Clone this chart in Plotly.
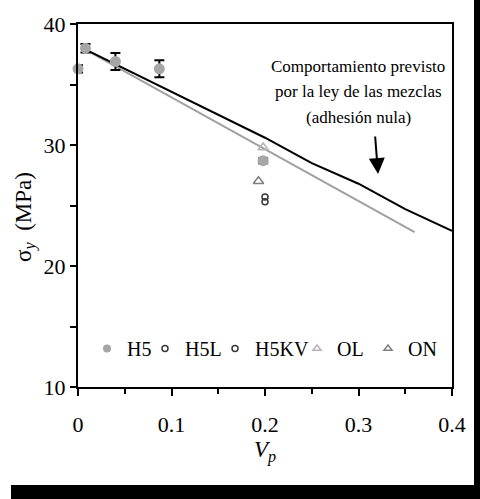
import plotly.graph_objects as go

# Measured yield stress versus particle volume fraction
h5_x = [0.0, 0.008, 0.04, 0.087, 0.198]
h5_y = [36.3, 38.0, 36.9, 36.3, 28.7]
h5_err = [0.3, 0.35, 0.7, 0.7, 0.2]

h5l_x = [0.2]
h5l_y = [25.7]
h5kv_x = [0.2]
h5kv_y = [25.3]
ol_x = [0.198]
ol_y = [29.8]
on_x = [0.193]
on_y = [27.0]

# Rule-of-mixtures predictions (zero adhesion)
mix_black_x = [0.005, 0.1, 0.2, 0.25, 0.3, 0.35, 0.4]
mix_black_y = [38.0, 34.4, 30.6, 28.5, 26.8, 24.7, 22.9]
mix_gray_x = [0.005, 0.36]
mix_gray_y = [38.0, 22.8]

x_ticks = [0, 0.1, 0.2, 0.3, 0.4]
x_tick_text = ["0", "0.1", "0.2", "0.3", "0.4"]
y_ticks = [10, 20, 30, 40]
legend_names = ["H5", "H5L", "H5KV", "OL", "ON"]

FONT = "Liberation Serif"
GRAY_H5 = "#a6a6a6"
GRAY_OL = "#b4b4b4"
GRAY_ON = "#7f7f7f"
DARK = "#3a3a3a"
NB = "\u00a0"

# plot area in pixels
L, R, T, B = 78, 452, 20, 387
W, H = R - L, B - T

fig = go.Figure()

fig.add_trace(go.Scatter(x=mix_gray_x, y=mix_gray_y, mode="lines",
                         line=dict(color="#a0a0a0", width=2), showlegend=False))
fig.add_trace(go.Scatter(x=mix_black_x, y=mix_black_y, mode="lines",
                         line=dict(color="black", width=2), showlegend=False))

fig.add_trace(go.Scatter(
    x=h5_x, y=h5_y, mode="markers", showlegend=False, cliponaxis=False,
    marker=dict(symbol="circle", size=11, color=GRAY_H5),
    error_y=dict(type="data", array=h5_err, color="black", thickness=2, width=5),
))
fig.add_trace(go.Scatter(x=h5l_x, y=h5l_y, mode="markers", showlegend=False,
                         marker=dict(symbol="circle-open", size=6, color=DARK,
                                     line=dict(width=1.5))))
fig.add_trace(go.Scatter(x=h5kv_x, y=h5kv_y, mode="markers", showlegend=False,
                         marker=dict(symbol="circle-open", size=6, color=DARK,
                                     line=dict(width=1.5))))
fig.add_trace(go.Scatter(x=ol_x, y=ol_y, mode="markers", showlegend=False,
                         marker=dict(symbol="triangle-up-open", size=9, color=GRAY_OL,
                                     line=dict(width=1.5))))
fig.add_trace(go.Scatter(x=on_x, y=on_y, mode="markers", showlegend=False,
                         marker=dict(symbol="triangle-up-open", size=9, color=GRAY_ON,
                                     line=dict(width=1.5))))

# Legend: one entry per legend box so each can sit at its own position
legend_markers = [
    dict(symbol="circle", size=8, color=GRAY_H5),
    dict(symbol="circle-open", size=6, color=DARK, line=dict(width=1.5)),
    dict(symbol="circle-open", size=6, color=DARK, line=dict(width=1.5)),
    dict(symbol="triangle-up-open", size=7, color=GRAY_OL, line=dict(width=1.5)),
    dict(symbol="triangle-up-open", size=7, color=GRAY_ON, line=dict(width=1.5)),
]
legend_text_px = [124, 182, 252, 334, 405]
legend_ids = ["legend", "legend2", "legend3", "legend4", "legend5"]
legend_layout = {}
for name, mk, lid, tx in zip(legend_names, legend_markers, legend_ids, legend_text_px):
    fig.add_trace(go.Scatter(x=[None], y=[None], mode="markers", name=name,
                             marker=mk, legend=lid))
    legend_layout[lid] = dict(
        x=(tx - 37 - L) / W, y=(B - 348) / H, xanchor="left", yanchor="middle",
        bgcolor="rgba(0,0,0,0)", borderwidth=0,
        font=dict(family=FONT, size=20, color="black"), itemwidth=30,
    )

axis_common = dict(
    showline=True, linecolor="black", linewidth=2, mirror=True,
    ticks="outside", tickcolor="black", tickwidth=2,
    showgrid=False, zeroline=False,
    tickfont=dict(family=FONT, size=22, color="black"),
)

fig.update_xaxes(
    range=[0, 0.4], tickvals=x_ticks, ticktext=x_tick_text, ticklen=7,
    ticklabelstandoff=10,
    minor=dict(dtick=0.05, ticks="outside", ticklen=5, tickcolor="black", tickwidth=2, showgrid=False),
    title=dict(text="<i>V<sub>p</sub></i>", font=dict(family=FONT, size=23, color="black"), standoff=4),
    **axis_common,
)
# a transparent tail pads the title so its visible part sits lower on the axis
fig.update_yaxes(
    range=[10, 40], tickvals=y_ticks, ticklen=6,
    minor=dict(dtick=5, ticks="outside", ticklen=6, tickcolor="black", tickwidth=2, showgrid=False),
    title=dict(text="σ<sub><i>y</i></sub>" + NB * 2 + "(MPa)"
                    + "<span style='color:rgba(0,0,0,0)'>xx</span>",
               font=dict(family=FONT, size=23, color="black"), standoff=6),
    **axis_common,
)

# Note on the rule-of-mixtures curve
note_lines = ["Comportamiento previsto", "por la ley de las mezclas", "(adhesión nula)"]
note_y = [36.5, 34.4, 32.3]
for txt, yy in zip(note_lines, note_y):
    fig.add_annotation(x=0.2995, y=yy, text=txt, showarrow=False,
                       font=dict(family=FONT, size=17, color="black"),
                       xanchor="center", yanchor="middle")
fig.add_annotation(x=0.3209, y=27.6, ax=-3, ay=-39, text="", showarrow=True,
                   arrowhead=2, arrowsize=1.6, arrowwidth=2, arrowcolor="black")

# Drop shadow of the frame
fig.add_shape(type="rect", xref="paper", yref="paper",
              x0=(474 - L) / W, x1=1.1, y0=-0.35, y1=1.1,
              fillcolor="black", line=dict(width=0), layer="above")
fig.add_shape(type="rect", xref="paper", yref="paper",
              x0=(11 - L) / W, x1=1.1, y0=-0.35, y1=(B - 486) / H,
              fillcolor="black", line=dict(width=0), layer="above")

fig.update_layout(
    width=480, height=499,
    margin=dict(l=L, r=480 - R, t=T, b=499 - B),
    paper_bgcolor="white", plot_bgcolor="white",
    font=dict(family=FONT, color="black"),
    showlegend=True,
    **legend_layout,
)

fig.write_html("out.html")
